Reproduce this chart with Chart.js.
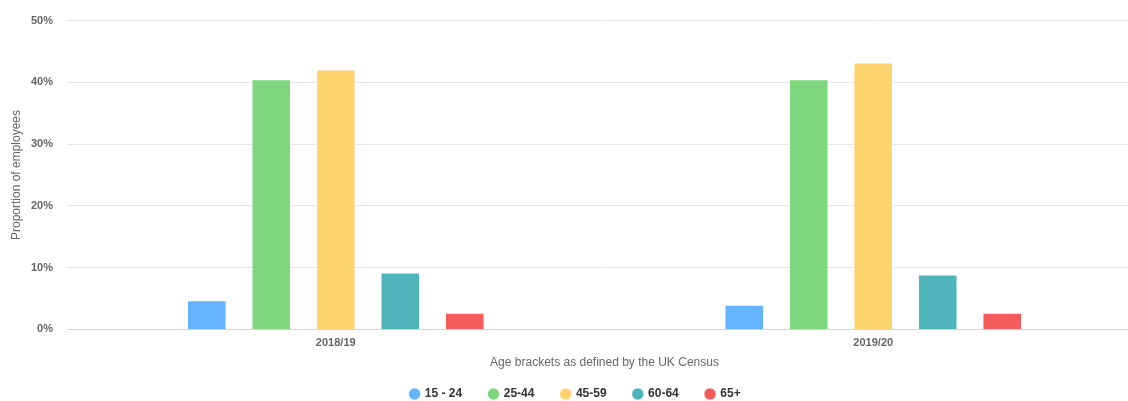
<!DOCTYPE html>
<html>
<head>
<meta charset="utf-8">
<script src="https://cdn.jsdelivr.net/npm/chart.js@4/dist/chart.umd.min.js"></script>
<style>
    html, body { margin: 0; padding: 0; background: #fff; overflow: hidden; }
    #wrap { width: 1142px; height: 401px; }
</style>
</head>
<body>
<div id="wrap"><canvas id="ageChart" width="1142" height="401"></canvas></div>
<script>
// years shown on the x axis
const years = ['2018/19', '2019/20'];

// proportion of employees (%) per age bracket
const age15to24 = [4.7, 4.0];
const age25to44 = [40.5, 40.5];
const age45to59 = [42.1, 43.2];
const age60to64 = [9.2, 8.9];
const age65plus = [2.7, 2.7];

const bracketLabels = ['15 - 24', '25-44', '45-59', '60-64', '65+'];
const bracketValues = [age15to24, age25to44, age45to59, age60to64, age65plus];
const bracketColors = ['#66b3ff', '#7ed67d', '#fdd36e', '#4fb4b9', '#f55b5b'];

const yTicks = [0, 10, 20, 30, 40, 50];

let datasets = [];
for (let i = 0; i < bracketLabels.length; i++) {
    datasets.push({
        label: bracketLabels[i],
        data: bracketValues[i],
        backgroundColor: bracketColors[i],
        borderColor: 'rgba(255,255,255,0.6)',
        borderWidth: 1,
        categoryPercentage: 0.6,
        barPercentage: 0.613
    });
}

let ctx = document.getElementById('ageChart').getContext('2d');
let chart = new Chart(ctx, {
    type: 'bar',
    data: {
        labels: years,
        datasets: datasets
    },
    options: {
        responsive: false,
        animation: false,
        layout: {
            padding: { top: 16, left: 9, right: 0, bottom: -9 }
        },
        plugins: {
            tooltip: { enabled: false },
            legend: {
                position: 'bottom',
                labels: {
                    usePointStyle: true,
                    pointStyle: 'circle',
                    boxWidth: 8.5,
                    boxHeight: 8.5,
                    padding: 27,
                    color: '#333333',
                    font: { family: 'Liberation Sans, Arial, sans-serif', size: 12, weight: 'bold' }
                }
            }
        },
        scales: {
            x: {
                grid: { display: false },
                border: { display: true, color: '#ccd6eb', width: 1 },
                ticks: {
                    color: '#666666',
                    padding: -1,
                    font: { family: 'Liberation Sans, Arial, sans-serif', size: 11, weight: 'bold' }
                },
                title: {
                    display: true,
                    text: 'Age brackets as defined by the UK Census',
                    color: '#666666',
                    padding: { top: 7, bottom: -9 },
                    font: { family: 'Liberation Sans, Arial, sans-serif', size: 12 }
                }
            },
            y: {
                min: 0,
                max: 50,
                afterBuildTicks: function (scale) {
                    scale.ticks = yTicks.map(v => ({ value: v }));
                },
                afterFit: function (scale) {
                    scale.width = 58;
                },
                grid: {
                    color: function (c) {
                        return c.tick && c.tick.value === 0 ? 'rgba(0,0,0,0)' : '#e6e6e6';
                    },
                    drawTicks: false
                },
                border: { display: false },
                ticks: {
                    color: '#666666',
                    padding: 14,
                    font: { family: 'Liberation Sans, Arial, sans-serif', size: 11, weight: 'bold' },
                    callback: function (value) { return value + '%'; }
                },
                title: {
                    display: true,
                    text: 'Proportion of employees',
                    color: '#666666',
                    padding: { top: 0, bottom: 0 },
                    font: { family: 'Liberation Sans, Arial, sans-serif', size: 12 }
                }
            }
        }
    }
});
</script>
</body>
</html>
